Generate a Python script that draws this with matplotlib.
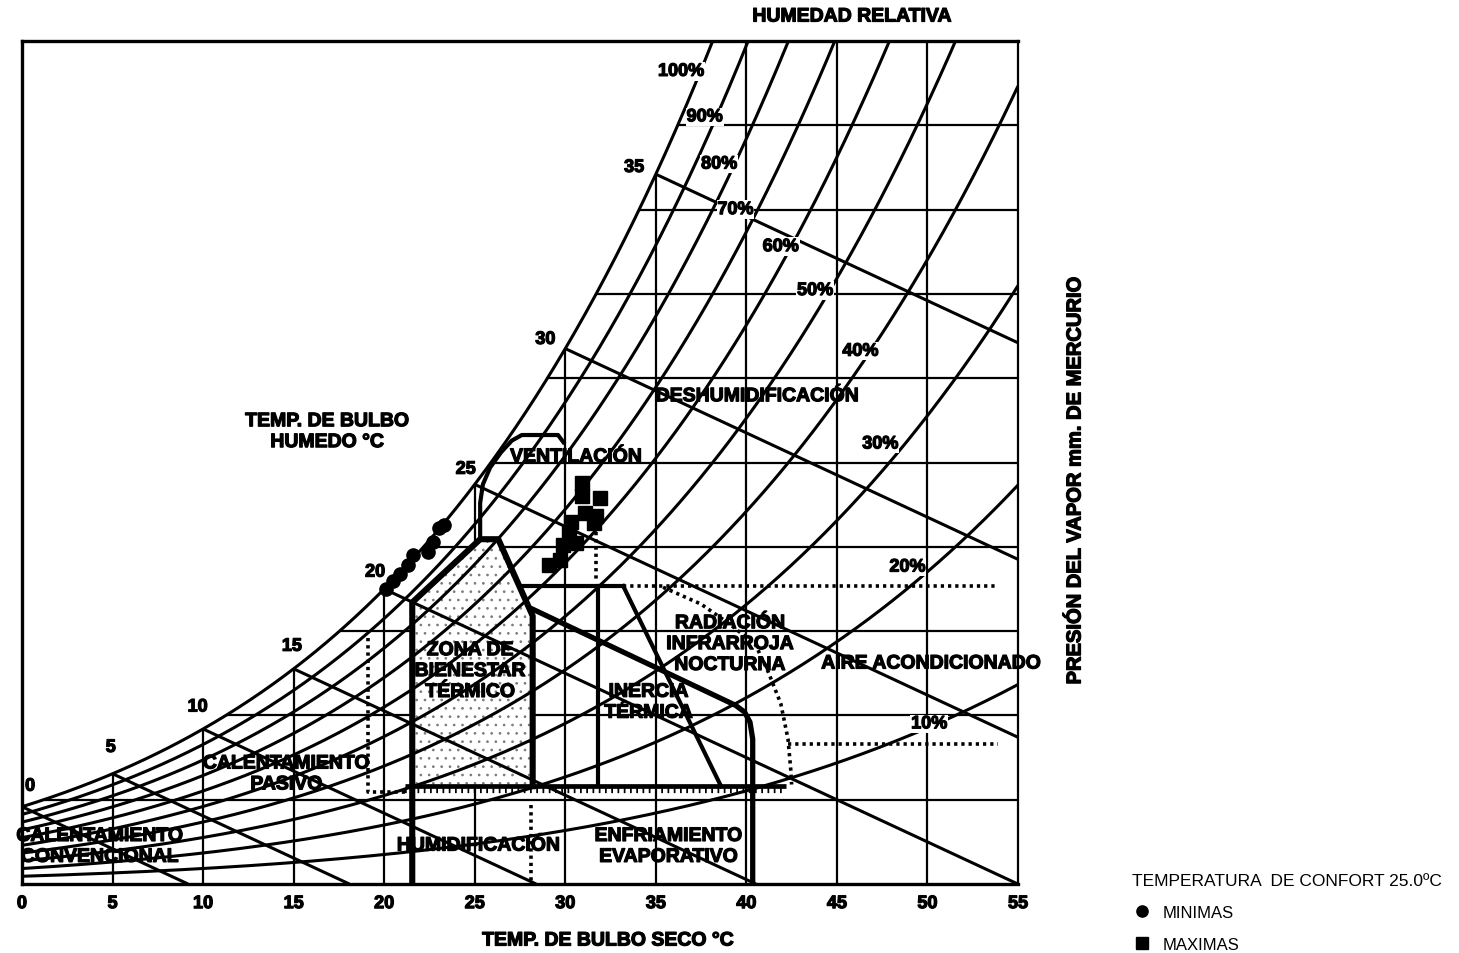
import numpy as np
import matplotlib
matplotlib.use("Agg")
import matplotlib.pyplot as plt
import matplotlib.patheffects as pe
from matplotlib.patches import Polygon

plt.rcParams['font.family'] = ['Liberation Sans', 'DejaVu Sans']
plt.rcParams['hatch.linewidth'] = 0.7

# ---------------------------------------------------------------- data
dry_bulb_ticks = [0, 5, 10, 15, 20, 25, 30, 35, 40, 45, 50, 55]
vapour_grid = [5, 10, 15, 20, 25, 30, 35, 40, 45]          # mmHg
rh_levels = [10, 20, 30, 40, 50, 60, 70, 80, 90, 100]       # %
wet_bulb_levels = [0, 5, 10, 15, 20, 25, 30, 35]            # °C

# monthly minimum / maximum conditions (°C, mmHg)
min_temp = [20.1, 20.5, 20.9, 21.3, 21.6, 22.4, 22.7, 23.0, 23.3]
min_vp = [17.5, 18.0, 18.4, 18.9, 19.5, 19.7, 20.3, 21.1, 21.3]
max_temp = [29.1, 29.7, 29.9, 30.2, 30.3, 30.6, 30.9, 30.9, 31.1, 31.7, 31.9, 31.6]
max_vp = [18.9, 19.2, 20.1, 20.8, 21.5, 20.2, 23.8, 23.0, 22.0, 21.8, 22.9, 21.4]

# strategy zone boundaries (°C, mmHg)
comfort_T = [21.55, 21.55, 25.3, 26.3, 28.2, 28.2]
comfort_e = [0.0, 16.7, 20.45, 20.45, 15.9, 5.8]
comfort_base_e = 5.8

vent_T = [25.3, 25.3, 25.45, 25.85, 26.45, 27.05, 27.6, 29.6, 29.9]
vent_e = [20.45, 22.6, 23.7, 24.7, 25.6, 26.3, 26.63, 26.63, 26.2]
vent_limit_T = [31.7, 31.7]
vent_limit_e = [20.9, 18.0]

inertia_top_T = [27.5, 33.2]
inertia_top_e = [17.67, 17.67]
inertia_diag_T = [33.2, 38.6]
inertia_diag_e = [17.67, 5.8]
inertia_inner_T = [31.8, 31.8]
inertia_inner_e = [17.67, 5.8]
inertia_ext_T = [33.2, 53.9]
inertia_ext_e = [17.67, 17.67]

radiation_T = [35.4, 37.5, 39.1, 40.5, 41.2, 41.9, 42.3, 42.45, 42.5]
radiation_e = [17.6, 16.6, 15.4, 14.2, 12.6, 10.7, 8.6, 6.8, 5.9]
radiation_ext_T = [42.3, 53.9]
radiation_ext_e = [8.3, 8.3]

evap_T = [28.2, 39.4, 39.9, 40.2, 40.35, 40.35]
evap_e = [16.3, 10.6, 10.2, 9.6, 8.6, 0.0]

base_T = [21.15, 42.2]
base_e = [5.8, 5.8]
passive_T = [19.1, 19.1, 21.15]
passive_e = [14.6, 5.45, 5.45]
humid_T = [28.1, 28.1]
humid_e = [4.7, 0.0]

rh_label_pos = {100: (36.4, 48.2), 90: (37.7, 45.5), 80: (38.5, 42.7),
                70: (39.4, 40.0), 60: (41.9, 37.8), 50: (43.8, 35.2),
                40: (46.3, 31.6), 30: (47.4, 26.1), 20: (48.9, 18.8),
                10: (50.1, 9.5)}
wb_label_pos = {0: (0.45, 5.8), 5: (4.9, 8.1), 10: (9.7, 10.5), 15: (14.9, 14.1),
                20: (19.5, 18.5), 25: (24.5, 24.6), 30: (28.9, 32.3),
                35: (33.8, 42.5)}


def e_sat(t):
    """Saturation vapour pressure in mmHg (Magnus)."""
    t = np.asarray(t, dtype=float)
    return 0.750062 * 6.112 * np.exp(17.62 * t / (243.12 + t))


def t_sat(e):
    """Dew point (°C) for a vapour pressure in mmHg."""
    x = np.log(e / (0.750062 * 6.112))
    return 243.12 * x / (17.62 - x)


PSY = 0.5  # psychrometric constant, mmHg per °C

# ---------------------------------------------------------------- figure
fig = plt.figure(figsize=(14.59, 9.54), dpi=100)
ax = fig.add_axes([22 / 1459, 69 / 954, 996 / 1459, 843 / 954])
ax.set_xlim(0, 55)
ax.set_ylim(0, 50)

LINE = dict(color='black', solid_capstyle='butt')

# grid, bounded by the saturation curve
for t in dry_bulb_ticks[1:-1]:
    ax.plot([t, t], [0, min(float(e_sat(t)), 50)], lw=1.6, **LINE, zorder=1)
for e in vapour_grid:
    ax.plot([t_sat(e), 55], [e, e], lw=1.6, **LINE, zorder=1)

# relative humidity curves
tt = np.linspace(0, 55, 600)
for rh in rh_levels:
    ax.plot(tt, rh / 100 * e_sat(tt), lw=2.2, **LINE, zorder=2)

# wet-bulb lines
for tw in wet_bulb_levels:
    es = float(e_sat(tw))
    t_end = tw + es / PSY
    ax.plot([tw, t_end], [es, 0], lw=2.2, **LINE, zorder=2)

# comfort zone with stipple (hatch takes the edge colour; edge width 0)
fill_pts = [(comfort_T[1], comfort_base_e)] + list(zip(comfort_T[1:], comfort_e[1:]))
ax.add_patch(Polygon(fill_pts, closed=True, facecolor='white',
                     edgecolor='#7a7a7a', linewidth=0, hatch='..', zorder=1.5))
ax.plot(comfort_T, comfort_e, lw=4.4, color='black',
        solid_joinstyle='round', zorder=4)

# ventilation
ax.plot(vent_T, vent_e, lw=3.0, color='black', solid_joinstyle='round', zorder=4)
DOT = dict(color='black', lw=2.6, linestyle=(0, (0.9, 1.1)), zorder=4)
ax.plot(vent_limit_T, vent_limit_e, **DOT)

# thermal mass
ax.plot(inertia_top_T, inertia_top_e, lw=3.0, color='black', zorder=4)
ax.plot(inertia_diag_T, inertia_diag_e, lw=3.0, color='black', zorder=4)
ax.plot(inertia_inner_T, inertia_inner_e, lw=3.0, color='black', zorder=4)
ax.plot(inertia_ext_T, inertia_ext_e, **DOT)

# night radiation / air conditioning
ax.plot(radiation_T, radiation_e, **DOT)
ax.plot(radiation_ext_T, radiation_ext_e, **DOT)

# evaporative cooling
ax.plot(evap_T, evap_e, lw=3.8, color='black', solid_joinstyle='round', zorder=4)

# base line with comb, passive heating and humidification limits
ax.plot(base_T, base_e, lw=3.4, color='black', solid_capstyle='butt', zorder=4)
ax.plot(base_T, [v - 0.22 for v in base_e], lw=4.5, color='black',
        linestyle=(0, (0.28, 0.72)), zorder=4)
ax.plot(passive_T, passive_e, **DOT)
ax.plot(humid_T, humid_e, **DOT)

# climate data
h_min, = ax.plot(min_temp, min_vp, 'o', color='black', ms=9.5, zorder=6,
                 label='MINIMAS')
h_max, = ax.plot(max_temp, max_vp, 's', color='black', ms=10, zorder=6,
                 label='MAXIMAS')

# labels on the chart
HEAVY = [pe.withStroke(linewidth=0.9, foreground='black')]
BOLD = dict(fontweight='bold', color='black', zorder=7, path_effects=HEAVY)
for rh, (x, y) in rh_label_pos.items():
    ax.text(x, y, f'{rh}%', fontsize=13, ha='center', va='center',
            bbox=dict(facecolor='white', edgecolor='none', pad=0.5), **BOLD)
for tw, (x, y) in wb_label_pos.items():
    ax.text(x, y, f'{tw}', fontsize=13, ha='center', va='center', **BOLD)

zone_labels = [
    ('DESHUMIDIFICACIÓN', 40.6, 28.9),
    ('VENTILACIÓN', 30.6, 25.3),
    ('ZONA DE\nBIENESTAR\nTÉRMICO', 24.75, 12.6),
    ('RADIACIÓN\nINFRARROJA\nNOCTURNA', 39.1, 14.2),
    ('AIRE ACONDICIONADO', 50.2, 13.05),
    ('INERCIA\nTÉRMICA', 34.6, 10.75),
    ('CALENTAMIENTO\nPASIVO', 14.6, 6.5),
    ('CALENTAMIENTO\nCONVENCIONAL', 4.3, 2.2),
    ('HUMIDIFICACIÓN', 25.2, 2.25),
    ('ENFRIAMIENTO\nEVAPORATIVO', 35.7, 2.2),
    ('TEMP. DE BULBO\nHUMEDO °C', 16.85, 26.8),
]
for s, x, y in zone_labels:
    ax.text(x, y, s, fontsize=14, ha='center', va='center',
            linespacing=1.3, **BOLD)

# axes styling
ax.set_xticks(dry_bulb_ticks)
ax.set_xticklabels([str(t) for t in dry_bulb_ticks], fontsize=13,
                   fontweight='bold', path_effects=HEAVY)
ax.tick_params(axis='x', length=0, pad=8)
ax.set_yticks([])
for side, lw in (('left', 2.4), ('top', 2.4), ('bottom', 2.4), ('right', 1.6)):
    ax.spines[side].set_linewidth(lw)

fig.text(852 / 1459, 1 - 18 / 954, 'HUMEDAD RELATIVA', fontsize=14,
         fontweight='bold', ha='center', va='center', path_effects=HEAVY)
fig.text(608 / 1459, 1 - 942 / 954, 'TEMP. DE BULBO SECO °C', fontsize=14,
         fontweight='bold', ha='center', va='center', path_effects=HEAVY)
fig.text(1075 / 1459, 1 - 481 / 954, 'PRESIÓN DEL VAPOR mm. DE MERCURIO',
         fontsize=14.5, fontweight='bold', ha='center', va='center',
         rotation=90, path_effects=HEAVY)

leg = ax.legend(handles=[h_min, h_max], labels=['MINIMAS', 'MAXIMAS'],
                title='TEMPERATURA  DE CONFORT 25.0ºC', loc='upper left',
                bbox_to_anchor=(1124 / 1459, 1 - 866 / 954),
                bbox_transform=fig.transFigure, frameon=False,
                fontsize=12, title_fontsize=12.5, alignment='left',
                handletextpad=0.6, labelspacing=1.0, borderpad=0,
                handlelength=1.2, markerscale=0.85)

fig.savefig('out.png', dpi=100, facecolor='white')
